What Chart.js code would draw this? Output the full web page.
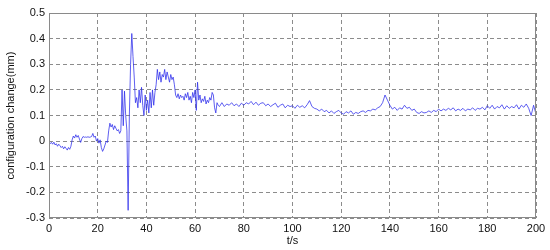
<!DOCTYPE html>
<html>
<head>
<meta charset="utf-8">
<script src="https://cdn.jsdelivr.net/npm/chart.js@4"></script>
<style>
  html, body { margin:0; padding:0; background:#fff; }
  #wrap { width:550px; height:250px; }
</style>
</head>
<body>
<div id="wrap"><canvas id="grafica"></canvas></div>
<script>
// Datos leidos de la figura
// tramo inicial 0..70 s, cada 0.5 s
const earlyStart = 0, earlyStep = 0.5;
const earlyValues = [
  0.000,-0.010,-0.005,-0.012,-0.004,-0.015,-0.010,-0.020,-0.012,-0.018,
  -0.025,-0.020,-0.030,-0.022,-0.028,-0.035,-0.025,-0.032,-0.020,0.005,
  0.020,0.012,0.025,0.015,0.022,0.008,-0.005,0.010,0.018,0.015,
  0.016,0.015,0.017,0.015,0.016,0.018,0.030,0.015,0.020,0.000,
  0.010,-0.008,0.005,-0.025,-0.040,-0.030,-0.015,0.000,-0.005,0.040,
  0.070,0.055,0.065,0.045,0.060,0.050,0.040,0.045,0.030,0.040,
  0.200,0.060,0.195,0.100,0.040,-0.270,0.100,0.300,0.420,0.330,
  0.250,0.150,0.170,0.130,0.200,0.150,0.210,0.140,0.100,0.180,
  0.120,0.160,0.110,0.190,0.130,0.200,0.140,0.190,0.220,0.280,
  0.240,0.270,0.230,0.260,0.250,0.280,0.240,0.270,0.250,0.230,
  0.260,0.240,0.250,0.220,0.180,0.170,0.185,0.165,0.180,0.170,
  0.175,0.160,0.185,0.170,0.190,0.160,0.175,0.150,0.190,0.170,
  0.200,0.120,0.230,0.160,0.180,0.150,0.165,0.155,0.175,0.145,
  0.160,0.150,0.170,0.160,0.190,0.180,0.130,0.110,0.150,0.140,
  0.135
];
// tramo final 71..200 s, cada 1 s
const lateStart = 71, lateStep = 1;
const lateValues = [
  0.150,0.135,0.145,0.140,0.150,0.138,0.145,0.135,0.148,0.140,
  0.150,0.145,0.155,0.142,0.152,0.140,0.148,0.150,0.138,0.145,
  0.135,0.142,0.148,0.132,0.140,0.145,0.130,0.140,0.135,0.138,
  0.128,0.140,0.132,0.138,0.130,0.142,0.158,0.135,0.128,0.125,
  0.118,0.125,0.115,0.120,0.110,0.118,0.108,0.115,0.120,0.110,
  0.105,0.115,0.110,0.118,0.105,0.112,0.108,0.115,0.118,0.112,
  0.120,0.118,0.125,0.122,0.130,0.135,0.150,0.180,0.160,0.140,
  0.125,0.132,0.120,0.130,0.125,0.140,0.128,0.132,0.120,0.125,
  0.112,0.108,0.115,0.110,0.112,0.118,0.112,0.120,0.115,0.125,
  0.118,0.125,0.120,0.128,0.122,0.130,0.118,0.125,0.120,0.128,
  0.118,0.125,0.122,0.130,0.120,0.128,0.125,0.132,0.122,0.138,
  0.128,0.140,0.125,0.135,0.130,0.142,0.125,0.138,0.128,0.135,
  0.130,0.142,0.125,0.140,0.132,0.145,0.128,0.100,0.140,0.105
];
const xTicks = [0,20,40,60,80,100,120,140,160,180,200];
const yTicks = [-0.3,-0.2,-0.1,0,0.1,0.2,0.3,0.4,0.5];
const xTitle = 't/s';
const yTitle = 'configuration change(mm)';

const puntos = [];
earlyValues.forEach((v,i)=> puntos.push({ x: earlyStart + i*earlyStep, y: v }));
lateValues.forEach((v,i)=> puntos.push({ x: lateStart + i*lateStep, y: v }));

// Marco completo alrededor del area (como matlab)
const marco = {
  id: 'marco',
  afterDatasetsDraw(chart){
    const {ctx, chartArea:a} = chart;
    ctx.save();
    ctx.strokeStyle = '#8a8a8a';
    ctx.lineWidth = 1;
    ctx.strokeRect(a.left+0.5, a.top+0.5, a.right-a.left-1, a.bottom-a.top-1);
    ctx.restore();
  }
};

const fuente = { family: 'Arial, "Liberation Sans", sans-serif', size: 11 };

new Chart(document.getElementById('grafica').getContext('2d'), {
  type: 'line',
  data: { datasets: [{
    data: puntos,
    borderColor: 'rgba(45,45,235,0.85)',
    borderWidth: 0.9,
    pointRadius: 0,
    tension: 0,
    fill: false
  }]},
  options: {
    responsive: true,
    maintainAspectRatio: false,
    animation: false,
    layout: { padding: { top: 13, right: 14, left: 0, bottom: 0 } },
    plugins: { legend: { display: false }, tooltip: { enabled: false } },
    scales: {
      x: {
        type: 'linear', min: 0, max: 200,
        afterBuildTicks: s => { s.ticks = xTicks.map(v=>({ value: v })); },
        afterFit: s => { s.height = 32; },
        grid: { color: '#8c8c8c', lineWidth: 1, drawTicks: false },
        border: { display: false, dash: [4,3] },
        ticks: { font: fuente, color: '#111', padding: 4, maxRotation: 0,
                 callback: v => String(v) },
        title: { display: true, text: xTitle, font: fuente, color: '#111', padding: { top: 0, bottom: 2 } }
      },
      y: {
        type: 'linear', min: -0.3, max: 0.5,
        afterBuildTicks: s => { s.ticks = yTicks.map(v=>({ value: v })); },
        afterFit: s => { s.width = 49; },
        grid: { color: '#8c8c8c', lineWidth: 1, drawTicks: false },
        border: { display: false, dash: [4,3] },
        ticks: { font: fuente, color: '#111', padding: 4,
                 callback: v => String(Math.round(v*10)/10) },
        title: { display: true, text: yTitle, font: fuente, color: '#111', padding: { top: 4, bottom: 0 } }
      }
    }
  },
  plugins: [marco]
});
</script>
</body>
</html>
